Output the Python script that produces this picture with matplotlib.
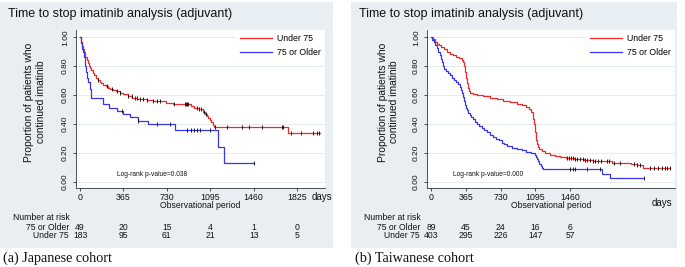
import numpy as np
import matplotlib
matplotlib.use("Agg")
import matplotlib.pyplot as plt
from matplotlib.patches import Rectangle
from matplotlib.transforms import blended_transform_factory

plt.rcParams['font.family'] = ['Liberation Sans', 'DejaVu Sans']

# ---------------- data ----------------
title = "Time to stop imatinib analysis (adjuvant)"
ylabel = "Proportion of patients who\ncontinued imatinib"
group_labels = ["Under 75", "75 or Older"]
xticks = [0, 365, 730, 1095, 1460, 1825]
yticks = [0.0, 0.2, 0.4, 0.6, 0.8, 1.0]

# Japanese cohort
jp_u75_t = [0, 8, 15, 22, 30, 38, 45, 55, 65, 75, 85, 95, 108, 120, 135, 150, 165, 180, 195, 215,
            235, 255, 280, 305, 335, 365, 400, 440, 480, 520, 560, 610, 660, 720, 780, 930, 960,
            1000, 1030, 1050, 1065, 1080, 1095, 1105, 1115, 1125, 1745]
jp_u75_s = [1.0, 0.97, 0.94, 0.92, 0.90, 0.88, 0.86, 0.84, 0.82, 0.80, 0.785, 0.77, 0.755, 0.74,
            0.72, 0.705, 0.69, 0.68, 0.67, 0.66, 0.65, 0.64, 0.635, 0.625, 0.615, 0.605, 0.59, 0.58,
            0.575, 0.57, 0.565, 0.56, 0.555, 0.545, 0.535, 0.525, 0.51, 0.50, 0.485, 0.47, 0.455,
            0.44, 0.425, 0.41, 0.39, 0.375, 0.333]
jp_u75_end = 2020
jp_u75_cens = [154, 224, 266, 308, 336, 406, 434, 462, 476, 505, 527, 561, 617, 650, 673, 790,
               880, 890, 900, 910, 985, 1000, 1020, 1040, 1060, 1135, 1233, 1360, 1422, 1531,
               1696, 1707, 1772, 1856, 1960, 1990, 2010]

jp_o75_t = [0, 8, 15, 22, 30, 40, 50, 60, 70, 80, 90, 195, 246, 309, 364, 420, 490, 572, 800,
            1160, 1211]
jp_o75_s = [1.0, 0.96, 0.92, 0.90, 0.86, 0.80, 0.76, 0.72, 0.69, 0.64, 0.58, 0.535, 0.51, 0.49,
            0.465, 0.445, 0.42, 0.40, 0.36, 0.24, 0.125]
jp_o75_end = 1465
jp_o75_cens = [350, 490, 645, 757, 900, 930, 960, 985, 1005, 1093, 1465]

jp_risk_o75 = [49, 20, 15, 4, 1, 0]
jp_risk_u75 = [183, 95, 61, 21, 13, 5]
jp_pval = "Log-rank p-value=0.038"
jp_caption = "(a) Japanese cohort"

# Taiwanese cohort
tw_u75_t = [0, 20, 40, 60, 80, 110, 140, 170, 200, 230, 260, 290, 320, 335, 345, 355, 365, 375,
            385, 395, 410, 440, 480, 550, 620, 690, 760, 830, 900, 950, 1000, 1030, 1050, 1065,
            1075, 1082, 1088, 1094, 1100, 1106, 1112, 1120, 1135, 1160, 1200, 1250, 1300, 1350,
            1420, 1500, 1600, 1700, 1800, 1900, 2000, 2100, 2160, 2225]
tw_u75_s = [1.0, 0.985, 0.97, 0.955, 0.945, 0.93, 0.915, 0.90, 0.885, 0.875, 0.865, 0.855, 0.845,
            0.83, 0.80, 0.76, 0.72, 0.68, 0.65, 0.63, 0.615, 0.605, 0.60, 0.59, 0.58, 0.57, 0.56,
            0.55, 0.54, 0.53, 0.515, 0.50, 0.48, 0.46, 0.43, 0.40, 0.37, 0.34, 0.31, 0.285, 0.26,
            0.24, 0.225, 0.21, 0.195, 0.183, 0.175, 0.17, 0.16, 0.155, 0.15, 0.145, 0.14, 0.13,
            0.125, 0.12, 0.115, 0.095]
tw_u75_end = 2507
tw_u75_cens = [1430, 1450, 1470, 1490, 1510, 1530, 1560, 1590, 1620, 1640, 1670, 1700, 1720,
               1750, 1780, 1850, 1870, 1920, 1980, 2130, 2160, 2190, 2300, 2340, 2380, 2420,
               2450, 2480, 2505]

tw_o75_t = [0, 15, 30, 45, 60, 75, 90, 105, 115, 125, 140, 160, 180, 200, 220, 240, 260, 280,
            300, 315, 325, 335, 345, 355, 365, 375, 390, 405, 420, 440, 460, 480, 500, 530, 560,
            590, 620, 650, 680, 710, 740, 770, 800, 850, 900, 950, 1000, 1050, 1090, 1100, 1110,
            1120, 1135, 1150, 1165, 1180, 1790, 1877]
tw_o75_s = [1.0, 0.98, 0.965, 0.945, 0.925, 0.90, 0.875, 0.85, 0.83, 0.80, 0.78, 0.765, 0.755,
            0.74, 0.72, 0.705, 0.69, 0.675, 0.655, 0.635, 0.61, 0.585, 0.56, 0.53, 0.51, 0.495,
            0.475, 0.46, 0.445, 0.43, 0.415, 0.40, 0.385, 0.37, 0.355, 0.34, 0.325, 0.31, 0.295,
            0.285, 0.27, 0.26, 0.245, 0.235, 0.225, 0.215, 0.205, 0.195, 0.185, 0.17, 0.155,
            0.14, 0.12, 0.105, 0.095, 0.085, 0.05, 0.025]
tw_o75_end = 2234
tw_o75_cens = [1460, 1490, 1510, 1633, 1773, 2234]

tw_risk_o75 = [89, 45, 24, 16, 6]
tw_risk_u75 = [403, 295, 226, 147, 57]
tw_pval = "Log-rank p-value=0.000"
tw_caption = "(b) Taiwanese cohort"

# ---------------- style ----------------
W, H = 685, 267
BG = '#e8eef1'
RED = '#ee2a2a'
BLUE = '#3636ee'
GRID = '#e2e8eb'
TXT = '#111111'


def fx(px):
    return px / W


def fy(py):
    return 1 - py / H


fig = plt.figure(figsize=(W / 100, H / 100), dpi=100)
fig.patch.set_facecolor('white')


def step_at(t, s, q):
    idx = np.searchsorted(np.asarray(t), np.asarray(q), side='right') - 1
    return np.asarray(s)[idx]


def panel(box, ax_px, xlim, xt, u_t, u_s, u_end, u_c, o_t, o_s, o_end, o_c,
          risk_o, risk_u, pval, caption, days_xy, ylab_x, pval_xy):
    bx0, bx1 = box
    fig.patches.append(Rectangle((fx(bx0), fy(248)), fx(bx1) - fx(bx0), fy(2) - fy(248),
                                 transform=fig.transFigure, facecolor=BG, edgecolor='none',
                                 zorder=-5))
    x0, x1, y0, y1 = ax_px
    ax = fig.add_axes([fx(x0), fy(y1), fx(x1) - fx(x0), fy(y0) - fy(y1)])
    ax.set_zorder(1)
    ax.set_facecolor('white')
    ax.set_xlim(*xlim)
    ax.set_ylim(-0.045, 1.05)
    for sp in ['top', 'right']:
        ax.spines[sp].set_visible(False)
    for sp in ['left', 'bottom']:
        ax.spines[sp].set_linewidth(0.6)
        ax.spines[sp].set_color('#333333')
    ax.set_yticks(yticks)
    ax.set_yticklabels([f"{v:.2f}" for v in yticks], rotation=90, va='center', fontsize=6)
    ax.set_xticks(xt)
    ax.set_xticklabels([str(v) for v in xt], fontsize=6.3)
    ax.tick_params(axis='both', length=2.5, width=0.6, color='#333333', labelcolor=TXT)
    ax.tick_params(axis='y', pad=2.5)
    ax.tick_params(axis='x', pad=1.0)
    for v in yticks:
        ax.axhline(v, color=GRID, lw=0.6, zorder=0.5)

    for (t, s, end, c, col, lab) in [(u_t, u_s, u_end, u_c, RED, group_labels[0]),
                                      (o_t, o_s, o_end, o_c, BLUE, group_labels[1])]:
        tt = list(t) + [end]
        ss = list(s) + [s[-1]]
        ax.step(tt, ss, where='post', color=col, lw=0.9, label=lab, zorder=3)
        ax.plot(c, step_at(t, s, c), linestyle='none', marker='|', markersize=3.5,
                mew=0.6, color='black', zorder=4)

    ax.legend(loc='upper right', bbox_to_anchor=(1.0, 1.0), fontsize=6.3,
              frameon=True, facecolor='white', edgecolor='none', framealpha=1,
              handlelength=3.6, handletextpad=0.6, borderpad=0.5, labelspacing=0.5,
              borderaxespad=0.0)

    ax.text(0.5, -18 / (y1 - y0), "Observational period", transform=ax.transAxes,
            ha='center', va='center', fontsize=6.2, color=TXT)
    ax.text(pval_xy[0], pval_xy[1], pval, transform=fig.transFigure, ha='center',
            va='center', fontsize=4.8, color=TXT)

    fig.text(fx(bx0 + 8), fy(14), title, ha='left', va='center', fontsize=9, color=TXT)
    fig.text(fx(ylab_x), fy(102), ylabel, rotation=90, ha='center', va='center',
             multialignment='center', fontsize=7.4, linespacing=1.2, color=TXT)
    fig.text(fx(days_xy[0]), fy(days_xy[1]), "days", ha='center', va='center', fontsize=7,
             color=TXT)

    tr = blended_transform_factory(ax.transData, fig.transFigure)
    fig.text(fx(bx0 + 13), fy(217), "Number at risk", ha='left', va='center', fontsize=6.2,
             color=TXT)
    fig.text(fx(x0 - 7), fy(227), group_labels[1], ha='right', va='center', fontsize=6.2,
             color=TXT)
    fig.text(fx(x0 - 7), fy(236), group_labels[0], ha='right', va='center', fontsize=6.2,
             color=TXT)
    for i, v in enumerate(risk_o):
        ax.text(xt[i], fy(227), str(v), transform=tr, ha='center', va='center',
                fontsize=6.2, color=TXT, clip_on=False)
    for i, v in enumerate(risk_u):
        ax.text(xt[i], fy(236), str(v), transform=tr, ha='center', va='center',
                fontsize=6.2, color=TXT, clip_on=False)

    fig.text(fx(bx0 + 3 if bx0 == 0 else bx0 + 4), fy(258), caption, ha='left', va='center',
             fontsize=10.2, family='Liberation Serif', color=TXT)
    return ax


panel((0, 333), (76, 325, 30, 188), (-34, 2060), xticks,
      jp_u75_t, jp_u75_s, jp_u75_end, jp_u75_cens,
      jp_o75_t, jp_o75_s, jp_o75_end, jp_o75_cens,
      jp_risk_o75, jp_risk_u75, jp_pval, jp_caption, (322, 197), 35,
      (fx(152), fy(174)))

panel((351, 677), (427, 675, 30, 188), (-42, 2560), xticks[:5],
      tw_u75_t, tw_u75_s, tw_u75_end, tw_u75_cens,
      tw_o75_t, tw_o75_s, tw_o75_end, tw_o75_cens,
      tw_risk_o75, tw_risk_u75, tw_pval, tw_caption, (662, 203), 388.5,
      (fx(488), fy(174)))

fig.savefig("out.png", dpi=100, facecolor='white')
